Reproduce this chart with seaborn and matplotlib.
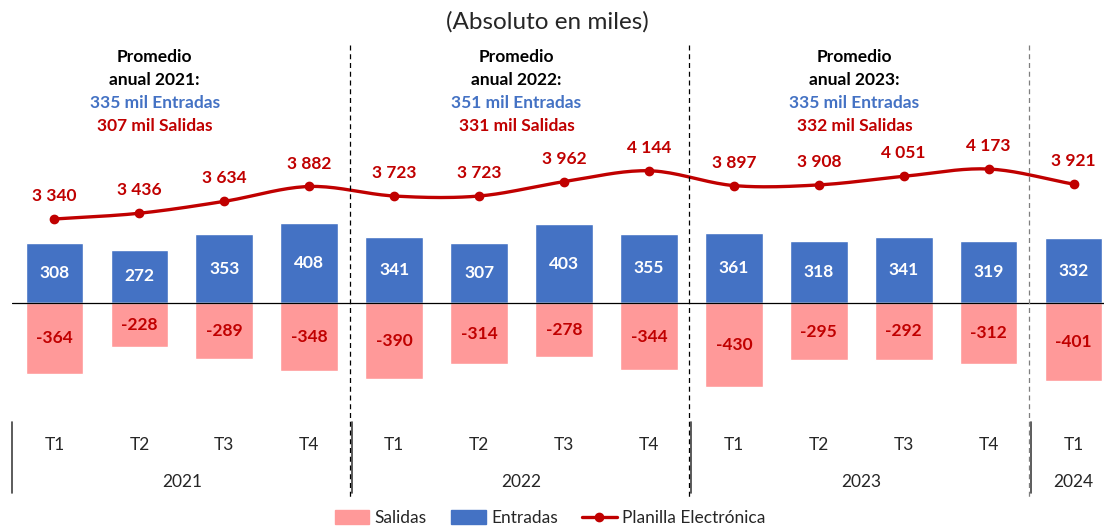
import numpy as np
import pandas as pd
import matplotlib
matplotlib.use("Agg")
import matplotlib.pyplot as plt
import matplotlib.transforms as mtransforms
from matplotlib.patches import Patch
from matplotlib.lines import Line2D
import seaborn as sns

sns.set_style("white")
plt.rcParams["font.family"] = ["Lato", "DejaVu Sans"]

# data
trimestres = ["T1", "T2", "T3", "T4", "T1", "T2", "T3", "T4", "T1", "T2", "T3", "T4", "T1"]
anios = ["2021"] * 4 + ["2022"] * 4 + ["2023"] * 4 + ["2024"]
entradas = [308, 272, 353, 408, 341, 307, 403, 355, 361, 318, 341, 319, 332]
salidas = [-364, -228, -289, -348, -390, -314, -278, -344, -430, -295, -292, -312, -401]
planilla = [3340, 3436, 3634, 3882, 3723, 3723, 3962, 4144, 3897, 3908, 4051, 4173, 3921]
prom_anios = ["2021", "2022", "2023"]
prom_entradas = [335, 351, 335]
prom_salidas = [307, 331, 332]

AZUL = "#4472C4"
ROSA = "#FF9999"
ROJO = "#C00000"
FS = 12.5

df = pd.DataFrame({
    "periodo": [t + " " + a for t, a in zip(trimestres, anios)],
    "Entradas": entradas,
    "Salidas": salidas,
    "Planilla": planilla,
})
n = len(df)


def suavizar(y, pasos=20):
    # Catmull-Rom curve through the points, like Excel's smoothed line
    p = np.concatenate([[2 * y[0] - y[1]], y, [2 * y[-1] - y[-2]]])
    xs, ys = [], []
    for i in range(1, len(p) - 2):
        t = np.linspace(0, 1, pasos, endpoint=False)
        p0, p1, p2, p3 = p[i - 1], p[i], p[i + 1], p[i + 2]
        v = 0.5 * (2 * p1 + (-p0 + p2) * t + (2 * p0 - 5 * p1 + 4 * p2 - p3) * t**2
                   + (-p0 + 3 * p1 - 3 * p2 + p3) * t**3)
        xs.append(i - 1 + t)
        ys.append(v)
    xs.append([len(y) - 1])
    ys.append([y[-1]])
    return np.concatenate(xs), np.concatenate(ys)


W, H = 1104, 526
fig = plt.figure(figsize=(W / 100, H / 100), dpi=100)
ax = fig.add_axes([12 / W, (H - 410) / H, 1104 / W, 370 / H])

sns.barplot(data=df, x="periodo", y="Entradas", color=AZUL, saturation=1, width=0.68, ax=ax)
sns.barplot(data=df, x="periodo", y="Salidas", color=ROSA, saturation=1, width=0.68, ax=ax)
ax.set_xlim(-0.5, n - 0.5)
ax.set_ylim(-549, 1349)
ax.axhline(0, color="black", lw=0.9)
ax.set_xticks([])
ax.set_yticks([])
ax.set_xlabel("")
ax.set_ylabel("")
for s in ax.spines.values():
    s.set_visible(False)

for i in range(n):
    ax.text(i, entradas[i] / 2, str(entradas[i]), ha="center", va="center",
            color="white", fontsize=FS, fontweight="bold")
    ax.text(i, salidas[i] / 2, str(salidas[i]), ha="center", va="center",
            color=ROJO, fontsize=FS, fontweight="bold")

ax2 = ax.twinx()
xs, ys = suavizar(np.array(planilla, dtype=float))
ax2.plot(xs, ys, color=ROJO, lw=2.4)
ax2.plot(range(n), planilla, "o", color=ROJO, ms=6)
ax2.set_ylim(157, 6323)
ax2.set_yticks([])
for s in ax2.spines.values():
    s.set_visible(False)
for i, v in enumerate(planilla):
    etiqueta = f"{v:,}".replace(",", " ")
    ax2.annotate(etiqueta, (i, v), xytext=(0, 16.5), textcoords="offset points",
                 ha="center", va="center", color=ROJO, fontsize=FS, fontweight="bold")

# annual averages
tr = mtransforms.blended_transform_factory(ax.transData, fig.transFigure)
pos_prom = [1.18, 5.44, 9.42]
for x, a, e, s in zip(pos_prom, prom_anios, prom_entradas, prom_salidas):
    ax.text(x, (H - 57) / H, "Promedio", transform=tr, ha="center", va="center",
            fontsize=FS, fontweight="bold", color="black")
    ax.text(x, (H - 80) / H, f"anual {a}:", transform=tr, ha="center", va="center",
            fontsize=FS, fontweight="bold", color="black")
    ax.text(x, (H - 103) / H, f"{e} mil Entradas", transform=tr, ha="center", va="center",
            fontsize=FS, fontweight="bold", color=AZUL)
    ax.text(x, (H - 126) / H, f"{s} mil Salidas", transform=tr, ha="center", va="center",
            fontsize=FS, fontweight="bold", color=ROJO)

# category axis (quarters and years)
for i, t in enumerate(trimestres):
    ax.text(i, (H - 445) / H, t, transform=tr, ha="center", va="center", fontsize=FS, clip_on=False)
anios_unicos = list(dict.fromkeys(anios))
for a in anios_unicos:
    idx = [i for i, b in enumerate(anios) if b == a]
    ax.text(np.mean(idx), (H - 482) / H, a, transform=tr, ha="center", va="center",
            fontsize=FS, clip_on=False)

limites = [-0.5, 3.5, 7.5, 11.5]
for x in limites:
    fig.add_artist(Line2D([x, x], [(H - 422) / H, (H - 493) / H], transform=tr,
                          color="#404040", lw=1.2))
for x, c in zip(limites[1:], ["black", "black", "#7F7F7F"]):
    fig.add_artist(Line2D([x - 0.025, x - 0.025], [(H - 45) / H, (H - 497) / H], transform=tr,
                          color=c, lw=0.9, ls=(0, (4, 3))))

fig.text(547 / W, (H - 22) / H, "(Absoluto en miles)", ha="center", va="center", fontsize=17.5)

handles = [Patch(color=ROSA), Patch(color=AZUL),
           Line2D([], [], color=ROJO, lw=2.4, marker="o", ms=6)]
fig.legend(handles, ["Salidas", "Entradas", "Planilla Electrónica"], loc="center",
           bbox_to_anchor=(550 / W, 8 / H), ncol=3, frameon=False, fontsize=FS,
           handlelength=2.0, handleheight=0.9, handletextpad=0.3, columnspacing=1.4)

fig.savefig("out.png", dpi=100)
